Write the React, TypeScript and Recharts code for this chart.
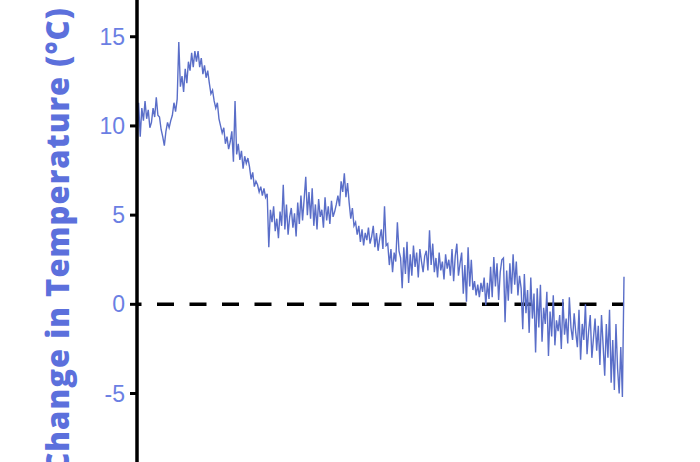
import React from 'react';
import { LineChart, Line, XAxis, YAxis, ReferenceLine } from 'recharts';

// Temperature change values (°C), read left to right from the reference
const tempValues: number[] = [
  8.6, 11.3, 9.4,
  11.0, 10.3, 11.4,
  10.4, 10.9,
  9.9, 10.2,
  11.0, 10.5,
  11.6, 10.6,
  10.5, 9.8, 9.4, 8.9,
  9.7, 10.2, 9.9, 10.3,
  10.6, 11.3, 10.8, 11.5,
  14.7, 12.2,
  12.8, 11.9, 13.2, 12.4, 13.6,
  13.1, 14.1, 13.3, 14.2, 13.6, 14.2,
  13.3, 13.8, 12.9, 13.4, 12.7, 13.1,
  12.4, 11.8, 12.0,
  11.4, 11.0, 11.3, 10.4,
  10.0, 9.6, 9.9, 9.0, 9.4, 8.7, 9.1,
  9.7, 8.0, 11.4, 8.4,
  9.0, 8.1, 8.6, 7.6, 8.3, 7.9, 8.2,
  7.7, 7.0, 7.4, 6.6, 6.9, 6.7,
  6.3, 6.6, 6.1, 6.5, 6.0, 6.2,
  3.2, 5.3,
  4.6, 5.5, 4.1, 4.8, 3.7, 5.2, 4.4, 6.7, 4.2, 5.6, 3.9, 4.9, 5.4, 4.3, 5.1, 3.8, 5.7, 4.5, 6.1, 4.7,
  5.9, 7.15, 5.0, 6.3,
  4.8, 6.5, 4.4, 5.6, 4.2, 5.9, 4.9, 5.3, 4.3, 6.0, 4.7, 5.5, 4.5, 5.8, 4.9, 5.2, 5.6,
  6.1, 5.5, 6.9, 6.3, 7.35, 6.0, 6.8,
  5.7, 4.8, 5.4, 4.4,
  4.6, 3.9, 4.4, 3.5, 4.2, 3.3, 4.0, 3.6, 4.3, 3.4,
  3.8, 4.4, 3.2, 4.0, 3.0, 3.7, 4.2, 3.1,
  5.5, 3.3,
  3.4, 2.2, 3.1, 1.8, 2.9, 2.4,
  4.6, 3.0,
  2.6, 0.9, 3.2, 1.7, 3.5, 1.2,
  2.8, 1.6, 3.3, 2.1, 2.9, 1.5, 3.1, 2.4, 1.8, 2.7,
  3.0, 1.9, 4.15, 2.2, 3.4, 1.8,
  2.6, 1.5, 2.9, 1.9, 2.4, 1.4, 2.8, 2.0, 2.5, 1.6,
  3.1, 1.3, 2.7, 3.4, 1.6, 2.3,
  2.9, 0.6, 2.2, 0.15, 3.2, 1.0, 2.5, 0.8,
  1.3, 0.5, 1.1, 0.4, 1.2, 0.7,
  1.5, -0.05, 1.2, 0.3,
  2.1, 0.4, 2.65, 1.0, 2.3, 0.25, 1.8, 2.5,
  2.6, -1.0, 1.9, 0.2,
  2.3, 0.6, 2.8, 1.1, 2.4, 0.5, 1.6,
  0.9, -1.4, 1.7, -0.5, 0.8,
  -1.6, 1.5, -0.8, 0.6,
  -2.7, 0.9, -1.3, 1.1, -2.1, -0.2,
  -1.1, 0.7, -2.9, -0.4, -1.8, 0.5, -2.3, -0.9, -1.5,
  -0.6, -2.5, 0.3, -1.7, -0.8, -2.2, 0.4, -1.3, -2.0, -0.5, -1.6,
  -2.4, -0.3, -3.1, -1.1, -2.0, 0.0, -2.8, -1.5, -0.6, -3.0, -1.9, -0.8, -2.6, -1.2,
  -3.4, -0.6, -2.3, -4.0, -1.1, -3.0, -0.3, -4.4,
  -2.0, -4.8, -1.1, -3.6, -5.0, -2.4,
  -5.2, 1.55,
];

const yTicks: number[] = [-5, 0, 5, 10, 15];
const yLabel = 'Change in Temperature (°C)';

const data = tempValues.map((v, i) => ({ t: i, temp: v }));

const YLabel = () => (
  <text
    x={0}
    y={0}
    transform="translate(57, 240) rotate(-90)"
    textAnchor="middle"
    dominantBaseline="central"
    fill="#5c70dc"
    fontFamily="'Open Sans', 'Noto Sans', sans-serif"
    fontWeight={800}
    fontSize={31}
    letterSpacing={1}
  >
    {yLabel}
  </text>
);

export default function App() {
  return (
    <div style={{ position: 'absolute', left: 0, top: 0, width: 700, height: 462, background: '#fff' }}>
      <LineChart width={700} height={462} data={data} margin={{ top: 0, right: 76, bottom: 0, left: 0 }}>
        <XAxis dataKey="t" type="number" domain={[0, tempValues.length - 1]} hide />
        <YAxis
          width={137}
          type="number"
          domain={[-8.84, 17.06]}
          allowDataOverflow
          ticks={yTicks}
          interval={0}
          axisLine={{ stroke: '#000', strokeWidth: 3.5 }}
          tickLine={{ stroke: '#000', strokeWidth: 3 }}
          tickSize={7}
          tickMargin={5}
          tick={{ fill: '#6b7fe3', fontSize: 23, fontFamily: "'Liberation Sans', Arial, sans-serif" }}
          label={{ content: () => <YLabel /> }}
        />
        <ReferenceLine
          y={0}
          stroke="#000"
          strokeWidth={3.5}
          strokeDasharray="17 15.5"
          strokeDashoffset={12.5}
          ifOverflow="visible"
        />
        <Line
          type="linear"
          dataKey="temp"
          stroke="#5a6ec8"
          strokeWidth={1.4}
          dot={false}
          isAnimationActive={false}
        />
      </LineChart>
    </div>
  );
}
